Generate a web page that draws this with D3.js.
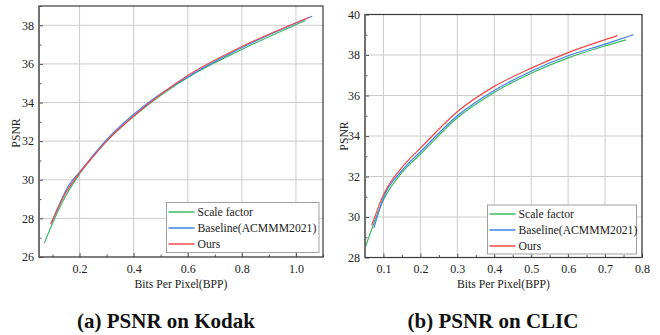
<!DOCTYPE html>
<html><head><meta charset="utf-8">
<script src="https://cdn.jsdelivr.net/npm/d3@7/dist/d3.min.js"></script>
<style>
html,body{margin:0;padding:0;background:#fff;}
svg text{font-family:"Liberation Serif","Times New Roman",serif;fill:#222;}
</style></head>
<body>
<svg id="c" width="660" height="335"></svg>
<script>
// ---------- data ----------
const seriesNames = ["Scale factor", "Baseline(ACMMM2021)", "Ours"];
const seriesColors = ["#3cb864", "#3f82ea", "#f0484c"];

// Kodak: [bpp, psnr]
const kodakScale    = [[0.070,26.72],[0.100,27.75],[0.150,29.20],[0.200,30.30],[0.300,32.00],[0.450,33.85],[0.600,35.30],[0.800,36.75],[1.035,38.25]];
const kodakBaseline = [[0.097,27.80],[0.162,29.75],[0.200,30.40],[0.300,32.08],[0.450,33.95],[0.620,35.50],[0.820,36.98],[1.060,38.47]];
const kodakOurs     = [[0.093,27.70],[0.150,29.35],[0.200,30.35],[0.250,31.20],[0.300,32.00],[0.400,33.30],[0.600,35.40],[0.800,36.90],[1.050,38.42]];

// CLIC: [bpp, psnr]
const clicScale    = [[0.050,28.45],[0.100,30.85],[0.150,32.20],[0.200,33.10],[0.300,34.90],[0.400,36.15],[0.500,37.10],[0.600,37.86],[0.700,38.45],[0.757,38.75]];
const clicBaseline = [[0.074,29.45],[0.100,30.95],[0.150,32.30],[0.200,33.22],[0.300,35.00],[0.400,36.25],[0.500,37.20],[0.600,37.96],[0.700,38.54],[0.777,39.00]];
const clicOurs     = [[0.068,29.58],[0.100,31.10],[0.150,32.45],[0.200,33.40],[0.300,35.20],[0.400,36.45],[0.500,37.35],[0.600,38.12],[0.734,38.96]];

const kodakXTicks = [0.2,0.4,0.6,0.8,1.0];
const kodakXMinor = [0.1,0.3,0.5,0.7,0.9,1.1];
const kodakYTicks = [26,28,30,32,34,36,38];
const kodakYMinor = [27,29,31,33,35,37,39];
const clicXTicks = [0.1,0.2,0.3,0.4,0.5,0.6,0.7,0.8];
const clicXMinor = [0.15,0.25,0.35,0.45,0.55,0.65,0.75];
const clicYTicks = [28,30,32,34,36,38,40];
const clicYMinor = [29,31,33,35,37,39];

const xTitle = "Bits Per Pixel(BPP)";
const yTitle = "PSNR";
const captions = ["(a) PSNR on Kodak", "(b) PSNR on CLIC"];

// ---------- drawing ----------
const svg = d3.select("#c");

function drawChart(cfg){
  const g = svg.append("g");
  const x = d3.scaleLinear().domain(cfg.xDomain).range([cfg.left, cfg.right]);
  const y = d3.scaleLinear().domain(cfg.yDomain).range([cfg.bottom, cfg.top]);
  const clipId = "clip" + cfg.id;
  svg.append("clipPath").attr("id", clipId).append("rect")
    .attr("x", cfg.left).attr("y", cfg.top)
    .attr("width", cfg.right - cfg.left).attr("height", cfg.bottom - cfg.top);

  // grid
  g.append("g").selectAll("line").data(cfg.xTicks).join("line")
    .attr("x1", d => x(d)).attr("x2", d => x(d))
    .attr("y1", cfg.top).attr("y2", cfg.bottom)
    .attr("stroke", "#cbcbcb").attr("stroke-width", 1);
  g.append("g").selectAll("line").data(cfg.yTicks).join("line")
    .attr("y1", d => y(d)).attr("y2", d => y(d))
    .attr("x1", cfg.left).attr("x2", cfg.right)
    .attr("stroke", "#cbcbcb").attr("stroke-width", 1);

  // lines
  const line = d3.line().x(d => x(d[0])).y(d => y(d[1])).curve(d3.curveMonotoneX);
  const lg = g.append("g").attr("clip-path", `url(#${clipId})`);
  cfg.series.forEach((s, i) => {
    lg.append("path").datum(s).attr("d", line)
      .attr("fill", "none").attr("stroke", seriesColors[i]).attr("stroke-width", 1.2);
  });

  // axes via d3 axis (inward ticks)
  const xAxis = d3.axisBottom(x).tickValues(cfg.xTicks).tickSize(-4).tickPadding(7)
    .tickFormat(d3.format(".1f"));
  const xa = g.append("g").attr("transform", `translate(0,${cfg.bottom})`).call(xAxis);
  const xAxisMinor = d3.axisBottom(x).tickValues(cfg.xMinor.filter(v => v <= cfg.xDomain[1])).tickSize(-2.5).tickFormat("");
  const xm = g.append("g").attr("transform", `translate(0,${cfg.bottom})`).call(xAxisMinor);
  const yAxis = d3.axisLeft(y).tickValues(cfg.yTicks).tickSize(-4).tickPadding(5)
    .tickFormat(d3.format("d"));
  const ya = g.append("g").attr("transform", `translate(${cfg.left},0)`).call(yAxis);
  const yAxisMinor = d3.axisLeft(y).tickValues(cfg.yMinor.filter(v => v <= cfg.yDomain[1])).tickSize(-2.5).tickFormat("");
  const ym = g.append("g").attr("transform", `translate(${cfg.left},0)`).call(yAxisMinor);
  [xa, xm, ya, ym].forEach(a => {
    a.select(".domain").remove();
    a.selectAll(".tick line").attr("stroke", "#555").attr("stroke-width", 1);
    a.selectAll(".tick text").attr("font-family", "Liberation Serif, serif")
      .attr("font-size", 12).attr("fill", "#222");
  });

  // frame
  g.append("rect").attr("x", cfg.left).attr("y", cfg.top)
    .attr("width", cfg.right - cfg.left).attr("height", cfg.bottom - cfg.top)
    .attr("fill", "none").attr("stroke", "#3a3a3a").attr("stroke-width", 1.2);
  g.append("line").attr("x1", cfg.left).attr("x2", cfg.left).attr("y1", cfg.top).attr("y2", cfg.bottom)
    .attr("stroke", "#707070").attr("stroke-width", 1.8);

  // legend
  const L = cfg.legend;
  const leg = g.append("g");
  leg.append("rect").attr("x", L.x).attr("y", L.y).attr("width", L.w).attr("height", L.h)
    .attr("fill", "#fff").attr("stroke", "#a0a0a0").attr("stroke-width", 1);
  seriesNames.forEach((n, i) => {
    const cy = L.y + L.first + i * 16;
    leg.append("line").attr("x1", L.x + 2).attr("x2", L.x + 28).attr("y1", cy).attr("y2", cy)
      .attr("stroke", seriesColors[i]).attr("stroke-width", 1.5);
    leg.append("text").attr("x", L.x + 31).attr("y", cy + 4).attr("font-size", 11.7).text(n);
  });

  // titles
  g.append("text").attr("x", (cfg.left + cfg.right) / 2).attr("y", 288)
    .attr("text-anchor", "middle").attr("font-size", 11.7).text(xTitle);
  g.append("text").attr("transform", `translate(${cfg.yTitleX},${cfg.yTitleY}) rotate(-90)`)
    .attr("text-anchor", "middle").attr("font-size", 11.7).text(yTitle);
  g.append("text").attr("x", cfg.capX).attr("y", 328)
    .attr("text-anchor", "middle").attr("font-size", 21).attr("font-weight", "bold")
    .style("font-family", "'Liberation Serif', serif")
    .style("fill", "#111").text(cfg.caption);
}

drawChart({
  id: "a", left: 39, right: 323, top: 6, bottom: 257,
  xDomain: [0.05, 1.1], yDomain: [26, 39],
  xTicks: kodakXTicks, xMinor: kodakXMinor, yTicks: kodakYTicks, yMinor: kodakYMinor,
  series: [kodakScale, kodakBaseline, kodakOurs],
  legend: {x: 166.5, y: 202.5, w: 152.5, h: 50, first: 9.5},
  yTitleX: 20, yTitleY: 133, capX: 166, caption: captions[0]
});
drawChart({
  id: "b", left: 365, right: 642, top: 14.5, bottom: 257.5,
  xDomain: [0.05, 0.8], yDomain: [28, 40],
  xTicks: clicXTicks, xMinor: clicXMinor, yTicks: clicYTicks, yMinor: clicYMinor,
  series: [clicScale, clicBaseline, clicOurs],
  legend: {x: 487.5, y: 205, w: 149, h: 49, first: 9},
  yTitleX: 348, yTitleY: 136, capX: 493, caption: captions[1]
});
</script>
</body></html>
